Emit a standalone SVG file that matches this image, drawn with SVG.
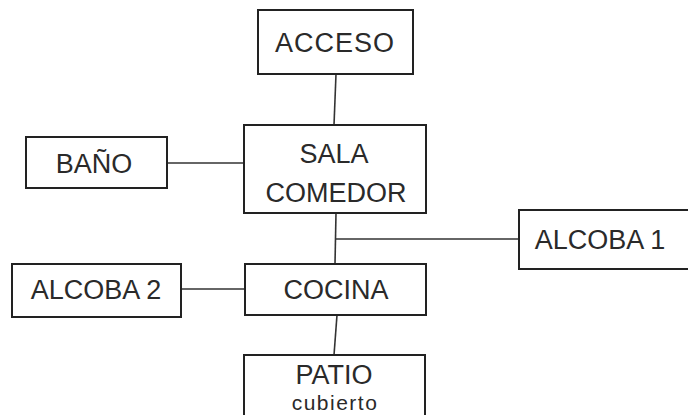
<svg xmlns="http://www.w3.org/2000/svg" width="688" height="415" viewBox="0 0 688 415">
<style>
.box{fill:#fff;stroke:#222;stroke-width:2}
.t{font-family:"Liberation Sans",Arial,sans-serif;font-size:27px;fill:#2a2a2a;text-anchor:middle}
.s{font-size:21px;letter-spacing:1.5px}
.ln{stroke:#333;stroke-width:1.6;fill:none}
</style>
<rect width="688" height="415" fill="#fff"/>
<g id="connectors">
<line class="ln" x1="336" y1="74" x2="334" y2="125"/>
<line class="ln" x1="167" y1="163" x2="244" y2="163"/>
<line class="ln" x1="336" y1="213" x2="335" y2="264"/>
<line class="ln" x1="336" y1="239" x2="519" y2="239"/>
<line class="ln" x1="181" y1="289" x2="245" y2="289"/>
<line class="ln" x1="337" y1="315" x2="334" y2="355"/>
</g>
<g id="acceso"><rect class="box" x="258" y="10" width="155" height="64"/><text class="t" x="335" y="52" letter-spacing="1">ACCESO</text></g>
<g id="sala"><rect class="box" x="244" y="125" width="182" height="88"/><text class="t" x="334" y="163">SALA</text><text class="t" x="336" y="202">COMEDOR</text></g>
<g id="bano"><rect class="box" x="26" y="137" width="141" height="51"/><text class="t" x="94" y="173">BAÑO</text></g>
<g id="alcoba1"><rect class="box" x="519" y="210" width="175" height="59"/><text class="t" x="600" y="249">ALCOBA 1</text></g>
<g id="cocina"><rect class="box" x="245" y="264" width="181" height="51"/><text class="t" x="336" y="299">COCINA</text></g>
<g id="alcoba2"><rect class="box" x="12" y="264" width="169" height="53"/><text class="t" x="96" y="299">ALCOBA 2</text></g>
<g id="patio"><rect class="box" x="244" y="355" width="181" height="70"/><text class="t" x="334" y="384">PATIO</text><text class="t s" x="335" y="410">cubierto</text></g>
</svg>
